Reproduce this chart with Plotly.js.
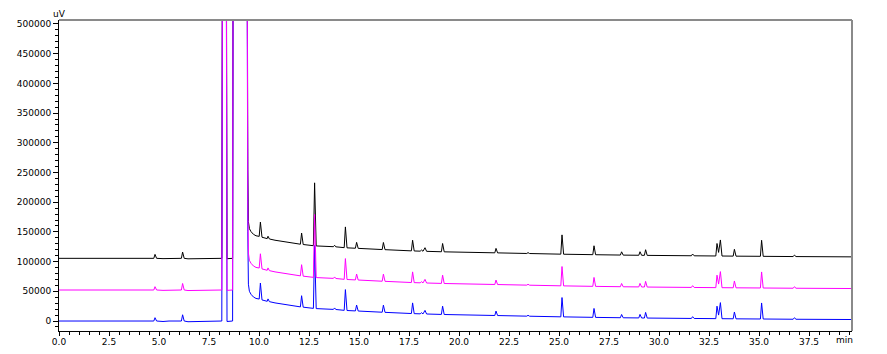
<!DOCTYPE html>
<html>
<head>
<meta charset="utf-8">
<script src="https://cdn.plot.ly/plotly-3.0.1.min.js"></script>
<style>
html,body{margin:0;padding:0;background:#fff;}
#chart{width:887px;height:354px;}
</style>
</head>
<body>
<div id="chart"></div>
<script>
// retention time (min), shared by the three chromatograms
const time = [
  0, 2.5, 4.74, 4.80, 4.88, 5.2, 5.5, 6.12, 6.18, 6.26, 6.45, 7.0, 7.6,
  8.14, 8.18, 8.36, 8.40, 8.60, 8.68, 8.71, 9.40, 9.44, 9.47, 9.52, 9.60, 9.72, 9.85,
  10.01, 10.07, 10.15, 10.30, 10.41, 10.45, 10.52, 10.80, 11.50,
  12.07, 12.13, 12.21, 12.72, 12.78, 12.86,
  13.72, 13.78, 13.84, 14.26, 14.32, 14.40, 14.82, 14.88, 14.96,
  16.16, 16.22, 16.30, 17.62, 17.68, 17.76,
  18.06, 18.12, 18.20, 18.30, 18.38, 19.12, 19.18, 19.26,
  21.79, 21.85, 21.93, 23.39, 23.45, 23.53,
  25.09, 25.15, 25.23, 26.69, 26.75, 26.83,
  28.07, 28.13, 28.21, 28.99, 29.05, 29.13, 29.27, 29.33, 29.41,
  31.62, 31.68, 31.76, 32.84, 32.90, 32.98, 33.07, 33.15,
  33.71, 33.77, 33.85, 35.07, 35.13, 35.21, 36.71, 36.77, 36.85, 39.65
];

// detector signal (uV) of each chromatogram
const blackUV = [
  105500, 105500, 105500, 112200, 105500, 105000, 105500, 105500, 116100, 105500, 104700, 105000, 105500,
  105500, 805500, 805500, 104900, 104900, 105500, 805500, 805500, 255500, 167500, 155500, 150500, 146000, 143500,
  142500, 166500, 141000, 139500, 138700, 142700, 138100, 136000, 132000,
  129300, 148100, 128800, 126800, 232600, 126400,
  125100, 127500, 124900, 123500, 158400, 123200, 122500, 132400, 122300,
  120300, 132200, 120100, 118100, 136000, 117900,
  117600, 119500, 117450, 123400, 117300, 116600, 130500, 116450,
  114800, 122250, 114700, 113700, 115150, 113600,
  112550, 145000, 112450, 111700, 126650, 111600,
  111050, 116500, 110950, 110700, 116650, 110600, 110550, 120000, 110480,
  109850, 112800, 109780, 109500, 130500, 115500, 136450, 109400,
  109250, 120700, 109180, 108920, 135900, 108880, 108500, 111000, 108480, 108000
];

const magentaUV = [
  52200, 52200, 52200, 57800, 52200, 51600, 52200, 52200, 63200, 52200, 51300, 51600, 52200,
  52200, 752200, 752200, 51600, 51600, 52200, 752200, 752200, 202200, 114200, 102200, 97200, 92700, 90200,
  89200, 113200, 87700, 86200, 85400, 89400, 84800, 82700, 78700,
  76000, 94800, 75500, 73500, 179300, 73100,
  71800, 74200, 71600, 70200, 105100, 69900, 69200, 79100, 69000,
  67000, 78900, 66800, 64800, 82700, 64600,
  64300, 66200, 64150, 70100, 64000, 63300, 77200, 63150,
  61500, 68950, 61400, 60400, 61850, 60300,
  59250, 91700, 59150, 58400, 73350, 58300,
  57750, 63200, 57650, 57400, 63350, 57300, 57250, 66700, 57180,
  56550, 59500, 56480, 56200, 77200, 62200, 83150, 56100,
  55950, 67400, 55880, 55620, 82600, 55580, 55200, 57700, 55180, 54700
];

const blueUV = [
  0, 0, 0, 5600, 0, -800, 0, 0, 10500, 0, -1200, -800, 0,
  0, 700000, 700000, -800, -800, 0, 700000, 700000, 150000, 62000, 50000, 45000, 40500, 38000,
  37000, 64000, 35500, 34000, 33200, 37200, 32600, 30500, 26500,
  23800, 42600, 23300, 21300, 127100, 20900,
  19600, 22000, 19400, 18000, 52900, 17700, 17000, 26900, 16800,
  14800, 26700, 14600, 12600, 30500, 12400,
  12100, 14000, 11950, 17900, 11800, 11100, 25000, 10950,
  9300, 16750, 9200, 8200, 9650, 8100,
  7050, 39500, 6950, 6200, 21150, 6100,
  5550, 11000, 5450, 5200, 11150, 5100, 5050, 14500, 4980,
  4350, 7300, 4280, 4000, 25000, 10000, 30950, 3900,
  3750, 15200, 3680, 3420, 30400, 3380, 3000, 5500, 2980, 2500
];

// axis ticks
const xTickVals = [0, 2.5, 5, 7.5, 10, 12.5, 15, 17.5, 20, 22.5, 25, 27.5, 30, 32.5, 35, 37.5];
const xTickText = ['0.0','2.5','5.0','7.5','10.0','12.5','15.0','17.5','20.0','22.5','25.0','27.5','30.0','32.5','35.0','37.5'];
const yTickVals = [0, 50000, 100000, 150000, 200000, 250000, 300000, 350000, 400000, 450000, 500000];
const yTickText = ['0','50000','100000','150000','200000','250000','300000','350000','400000','450000','500000'];
const xUnit = 'min';
const yUnit = 'uV';

const FONT = 'DejaVu Sans, Liberation Sans, Arial, sans-serif';

const traces = [
  {x: time, y: blackUV, type: 'scatter', mode: 'lines', line: {color: '#000000', width: 1}, hoverinfo: 'skip'},
  {x: time, y: blueUV, type: 'scatter', mode: 'lines', line: {color: '#0000ff', width: 1}, hoverinfo: 'skip'},
  {x: time, y: magentaUV, type: 'scatter', mode: 'lines', line: {color: '#ff00ff', width: 1}, hoverinfo: 'skip'}
];

const layout = {
  width: 887, height: 354,
  margin: {l: 59, r: 35, t: 20, b: 23, pad: 0},
  paper_bgcolor: '#ffffff', plot_bgcolor: '#ffffff',
  showlegend: false,
  font: {family: FONT, size: 9, color: '#000000'},
  xaxis: {
    range: [0, 39.65], showgrid: false, zeroline: false,
    showline: true, linecolor: '#000000', linewidth: 1,
    ticks: 'outside', ticklen: 4, tickwidth: 1, tickcolor: '#000000',
    ticklabelstandoff: -2,
    tickmode: 'array', tickvals: xTickVals, ticktext: xTickText,
    minor: {dtick: 0.5, tick0: 0, ticks: 'outside', ticklen: 3, tickwidth: 1, tickcolor: '#000000', showgrid: false},
    tickfont: {family: FONT, size: 9, color: '#000000'}
  },
  yaxis: {
    range: [-16800, 506700], showgrid: false, zeroline: false,
    showline: true, linecolor: '#000000', linewidth: 1,
    ticks: 'outside', ticklen: 5, tickwidth: 1, tickcolor: '#000000',
    tickmode: 'array', tickvals: yTickVals, ticktext: yTickText,
    minor: {dtick: 10000, tick0: 0, ticks: 'outside', ticklen: 3, tickwidth: 1, tickcolor: '#000000', showgrid: false},
    tickfont: {family: FONT, size: 9, color: '#000000'}
  },
  shapes: [
    {type: 'line', xref: 'paper', yref: 'paper', x0: 0, x1: 1, y0: 1, y1: 1, line: {color: '#8a8a8a', width: 2}},
    {type: 'line', xref: 'paper', yref: 'paper', x0: 1, x1: 1, y0: 0, y1: 1, line: {color: '#8a8a8a', width: 2}}
  ],
  annotations: [
    {text: yUnit, xref: 'paper', yref: 'paper', x: 0, y: 1, xanchor: 'center', yanchor: 'bottom', yshift: -1, showarrow: false, font: {family: FONT, size: 9, color: '#000000'}},
    {text: xUnit, xref: 'x', yref: 'paper', x: 39.25, y: 0, xanchor: 'center', yanchor: 'top', yshift: -2, showarrow: false, font: {family: FONT, size: 9, color: '#000000'}}
  ]
};

Plotly.newPlot('chart', traces, layout, {displayModeBar: false, staticPlot: true});
</script>
</body>
</html>
